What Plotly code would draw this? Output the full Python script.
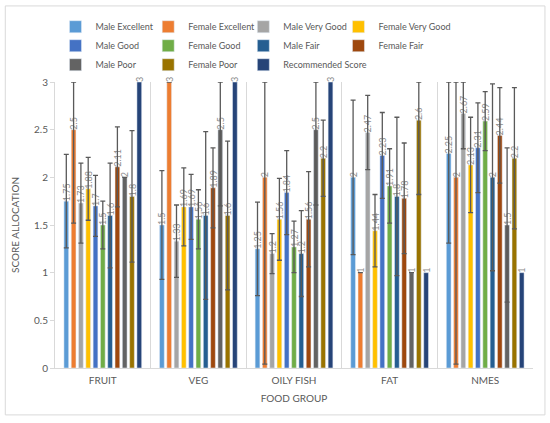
import plotly.graph_objects as go

food_groups = ["FRUIT", "VEG", "OILY FISH", "FAT", "NMES"]

# mean scores per group (order follows food_groups)
male_excellent = [1.75, 1.5, 1.25, 2, 2.25]
female_excellent = [2.5, 3, 2, 1, 2]
male_very_good = [1.73, 1.33, 1.2, 2.47, 2.67]
female_very_good = [1.88, 1.69, 1.56, 1.44, 2.13]
male_good = [1.7, 1.69, 1.84, 2.23, 2.31]
female_good = [1.5, 1.56, 1.27, 1.91, 2.59]
male_fair = [1.6, 1.6, 1.2, 1.8, 2]
female_fair = [2.11, 1.89, 1.56, 1.78, 2.44]
male_poor = [2, 2.5, 2.5, 1, 1.5]
female_poor = [1.8, 1.6, 2.2, 2.6, 2.2]
recommended = [3, 3, 3, 1, 1]

# error bar sizes (None = no error bar shown)
male_excellent_err = [0.49, 0.57, 0.49, 0.81, 0.94]
female_excellent_err = [0.98, None, 1.96, None, 1.96]
male_very_good_err = [0.42, 0.38, 0.21, 0.39, 0.37]
female_very_good_err = [0.33, 0.41, 0.43, 0.38, 0.5]
male_good_err = [0.32, 0.34, 0.44, 0.45, 0.47]
female_good_err = [0.25, 0.31, 0.27, 0.39, 0.31]
male_fair_err = [0.55, 0.88, 0.45, 0.83, 0.98]
female_fair_err = [0.42, 0.42, 0.5, 0.58, 0.5]
male_poor_err = [None, 0.8, 0.79, None, 0.81]
female_poor_err = [0.69, 0.78, 0.4, 0.78, 0.74]

series = [
    ("Male Excellent", male_excellent, male_excellent_err, "#5B9BD5"),
    ("Female Excellent", female_excellent, female_excellent_err, "#ED7D31"),
    ("Male Very Good", male_very_good, male_very_good_err, "#A5A5A5"),
    ("Female Very Good", female_very_good, female_very_good_err, "#FFC000"),
    ("Male Good", male_good, male_good_err, "#4472C4"),
    ("Female Good", female_good, female_good_err, "#70AD47"),
    ("Male Fair", male_fair, male_fair_err, "#255E91"),
    ("Female Fair", female_fair, female_fair_err, "#9E480E"),
    ("Male Poor", male_poor, male_poor_err, "#636363"),
    ("Female Poor", female_poor, female_poor_err, "#997300"),
    ("Recommended Score", recommended, None, "#264478"),
]

Y_MAX = 3
FONT = "Lato, 'Open Sans', sans-serif"

# Excel lays the legend out in 4 columns; one vertical legend per column
legend_ids = ["legend", "legend2", "legend3", "legend4"]

fig = go.Figure()
for i, (name, vals, errs, color) in enumerate(series):
    err_cfg = None
    if errs is not None:
        # keep whiskers inside the 0..3 axis like the Excel chart does
        plus = [None if e is None else min(e, Y_MAX - v) for v, e in zip(vals, errs)]
        minus = [None if e is None else min(e, v) for v, e in zip(vals, errs)]
        err_cfg = dict(type="data", symmetric=False, array=plus, arrayminus=minus,
                       color="#595959", thickness=1.3, width=2.5)
    fig.add_trace(go.Bar(
        name=name, x=food_groups, y=vals, marker_color=color,
        error_y=err_cfg, legend=legend_ids[i % 4],
        texttemplate="%{y}", textposition="outside", textangle=-90,
        constraintext="none", cliponaxis=False,
        textfont=dict(size=9, color="#8c8c8c", family=FONT),
    ))

# y kept low enough that the legends don't push the top margin past 82px
legend_style = dict(orientation="v", xanchor="left", y=1.244, yanchor="top",
                    itemwidth=30, traceorder="normal", bgcolor="rgba(0,0,0,0)",
                    font=dict(size=9, color="#595959", family=FONT))
legend_x = [0.001, 0.195, 0.394, 0.593]

fig.update_layout(
    width=550, height=423,
    margin=dict(l=55, r=17, t=82, b=55),
    paper_bgcolor="white", plot_bgcolor="white",
    font=dict(family=FONT, color="#595959", size=10),
    barmode="group", bargap=0.16, bargroupgap=0.35,
    showlegend=True,
    legend=dict(x=legend_x[0], **legend_style),
    legend2=dict(x=legend_x[1], **legend_style),
    legend3=dict(x=legend_x[2], **legend_style),
    legend4=dict(x=legend_x[3], **legend_style),
    shapes=[dict(type="rect", xref="paper", yref="paper",
                 x0=-0.104, x1=1.025, y0=-0.164, y1=1.266,
                 line=dict(color="#d9d9d9", width=1), layer="below")],
)
fig.update_xaxes(
    title=dict(text="FOOD GROUP", font=dict(size=10, color="#595959"), standoff=9),
    tickson="boundaries", showgrid=True, gridcolor="#d9d9d9", gridwidth=1,
    showline=True, linecolor="#d9d9d9", ticks="", tickfont=dict(size=10, color="#595959"),
    ticklabelstandoff=3,
)
fig.update_yaxes(
    title=dict(text="SCORE ALLOCATION", font=dict(size=10, color="#595959"), standoff=12),
    range=[0, Y_MAX], dtick=0.5, showgrid=False, zeroline=False,
    showline=True, linecolor="#d9d9d9", ticks="outside", ticklen=4, tickcolor="#d9d9d9",
    tickfont=dict(size=10, color="#595959"),
)

# drop the browser's default page margin so the figure sits at the window origin
fig.write_html("out.html", config={"displayModeBar": False},
               post_script="document.body.style.margin='0';")
